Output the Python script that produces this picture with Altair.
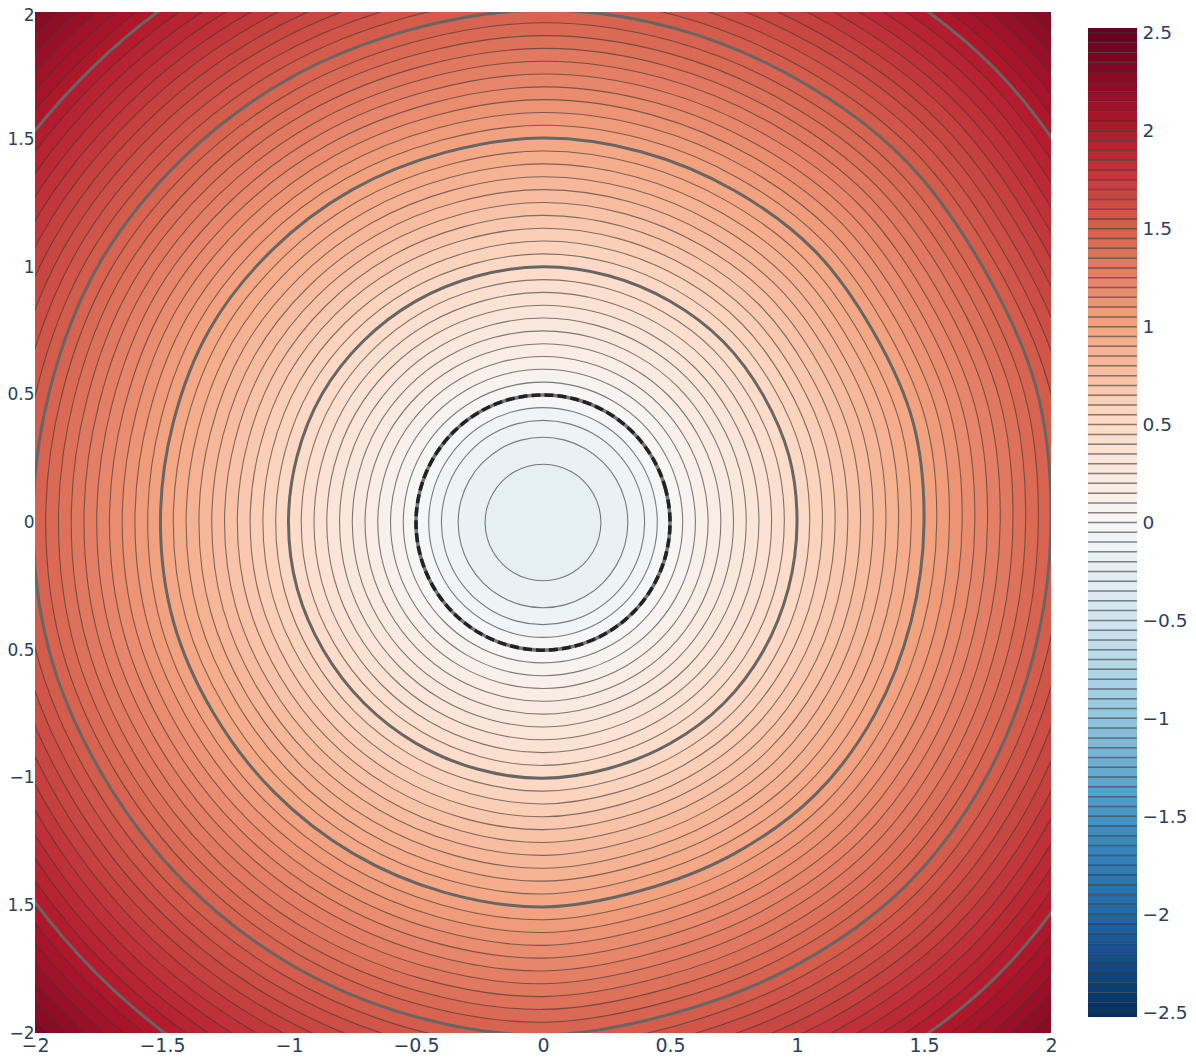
import math
import altair as alt
import pandas as pd

LEVELS = [-0.2, -0.15, -0.1, -0.05, 0.0, 0.05, 0.1, 0.15, 0.2, 0.25, 0.3, 0.35, 0.4, 0.45, 0.5, 0.55, 0.6, 0.65,
          0.7, 0.75, 0.8, 0.85, 0.9, 0.95, 1.0, 1.05, 1.1, 1.15, 1.2, 1.25, 1.3, 1.35, 1.4, 1.45, 1.5, 1.55,
          1.6, 1.65, 1.7, 1.75, 1.8, 1.85, 1.9, 1.95, 2.0, 2.05, 2.1, 2.15, 2.2, 2.25, 2.3, 2.35]
RADII = [0.228, 0.334, 0.4, 0.45, 0.5, 0.55, 0.6, 0.65, 0.7, 0.75, 0.8, 0.85, 0.9, 0.95, 1.0, 1.05, 1.1, 1.15,
         1.2, 1.25, 1.3, 1.35, 1.4, 1.45, 1.5, 1.55, 1.6, 1.65, 1.7, 1.75, 1.8, 1.85, 1.9, 1.95, 2.0, 2.05,
         2.1, 2.15, 2.2, 2.25, 2.3, 2.35, 2.4, 2.45, 2.5, 2.55, 2.6, 2.65, 2.7, 2.75, 2.8, 2.85]
# radial bulge of the contours, read every 15 degrees counter-clockwise from +x
BULGE = [1.0, 1.006, 1.0, 1.006, 1.002, 1.002, 1.004, 1.0, 1.003, 1.006, 1.01, 1.005,
         1.004, 1.004, 0.998, 0.997, 0.998, 1.0, 1.004, 0.995, 1.0, 1.008, 1.005, 1.0]
MAJOR_RADII = [1.0, 1.5, 2.0, 2.5]
X_TICKS = [-2, -1.5, -1, -0.5, 0, 0.5, 1, 1.5, 2]
Y_TICKS = [-2, -1.5, -1, -0.5, 0, 0.5, 1, 1.5, 2]
CBAR_TICKS = [-2.5, -2, -1.5, -1, -0.5, 0, 0.5, 1, 1.5, 2, 2.5]
CBAR_LEVELS = [k * 0.05 for k in range(-50, 51)]
COLOR_DOMAIN = [-2.5, -2, -1.5, -1, -0.5, 0, 0.5, 1, 1.5, 2, 2.5]
COLOR_RANGE = ["rgb(5,48,97)", "rgb(33,102,172)", "rgb(67,147,195)", "rgb(146,197,222)", "rgb(209,229,240)",
               "rgb(247,247,247)", "rgb(253,219,199)", "rgb(244,165,130)", "rgb(214,96,77)", "rgb(178,24,43)",
               "rgb(103,0,31)"]

FONT = "DejaVu Sans"
INK = "#2a3f5f"
MINUS_LABEL = "replace(toString(datum.value), '-', '\u2212')"


def ring(level, radius):
    rows = []
    for i, b in enumerate(BULGE):
        k = max(0.0, min(1.0, radius - 0.5))
        a = math.radians(i * 15)
        r = radius * (1 + (b - 1) * k)
        rows.append({"level": level, "radius": radius, "i": i, "band": level - 0.025,
                     "x": r * math.cos(a), "y": r * math.sin(a)})
    return rows


rows = []
for lv, rd in sorted(zip(LEVELS, RADII), reverse=True):
    rows += ring(lv, rd)
df = pd.DataFrame(rows)

xs = alt.Scale(domain=[-2, 2], nice=False, zero=False)
ys = alt.Scale(domain=[-2, 2], nice=False, zero=False)
color_scale = alt.Scale(domain=COLOR_DOMAIN, range=COLOR_RANGE, interpolate="rgb")

x_enc = alt.X("x:Q", scale=xs, title=None,
              axis=alt.Axis(values=X_TICKS, domain=False, ticks=False, grid=False, labelFont=FONT, labelFontSize=19,
                            labelColor=INK, labelPadding=3, labelOverlap=False, labelFlush=False,
                            labelExpr=MINUS_LABEL))
y_enc = alt.Y("y:Q", scale=ys, title=None,
              axis=alt.Axis(values=Y_TICKS, domain=False, ticks=False, grid=False, labelFont=FONT, labelFontSize=17,
                            labelColor=INK, labelPadding=1, labelOverlap=False, labelFlush=False,
                            minExtent=27, maxExtent=27,
                            labelOffset={"condition": {"test": "datum.value == 2", "value": 3}, "value": 0},
                            labelExpr="datum.value == -0.5 ? '0.5' : datum.value == -1.5 ? '1.5' : " + MINUS_LABEL))

canvas = alt.Chart(pd.DataFrame({"x": [-2], "x2": [2], "y": [-2], "y2": [2]})).mark_rect(
    color="rgb(103,0,31)").encode(x=x_enc, x2="x2:Q", y=y_enc, y2="y2:Q")

fills = alt.Chart(df).mark_line(filled=True, interpolate="cardinal-closed", clip=True, strokeWidth=0).encode(
    x=alt.X("x:Q", scale=xs), y=alt.Y("y:Q", scale=ys), order="i:Q",
    detail=alt.Detail("level:N"),
    fill=alt.Fill("band:Q", scale=color_scale, legend=None),
)
thin = alt.Chart(df).mark_line(interpolate="cardinal-closed", clip=True, strokeWidth=1.1, stroke="#3a3a3a",
                               strokeOpacity=0.65).encode(
    x=alt.X("x:Q", scale=xs), y=alt.Y("y:Q", scale=ys), order="i:Q", detail="level:N")
major_df = df[df["radius"].isin(MAJOR_RADII)]
major = alt.Chart(major_df).mark_line(interpolate="cardinal-closed", clip=True, strokeWidth=3, stroke="#666666").encode(
    x=alt.X("x:Q", scale=xs), y=alt.Y("y:Q", scale=ys), order="i:Q", detail="level:N")
zero_df = df[df["level"] == 0.0]
zero_a = alt.Chart(zero_df).mark_line(interpolate="cardinal-closed", clip=True, strokeWidth=3.5, stroke="#777777").encode(
    x=alt.X("x:Q", scale=xs), y=alt.Y("y:Q", scale=ys), order="i:Q", detail="level:N")
zero_b = alt.Chart(zero_df).mark_line(interpolate="cardinal-closed", clip=True, strokeWidth=3.5, stroke="#222222",
                                      strokeDash=[9, 4]).encode(
    x=alt.X("x:Q", scale=xs), y=alt.Y("y:Q", scale=ys), order="i:Q", detail="level:N")

main = alt.layer(canvas, fills, thin, major, zero_a, zero_b).properties(width=1016, height=1021)

cb_df = pd.DataFrame({"level": CBAR_LEVELS})
cb_df["lo"] = (cb_df["level"] - 0.05).clip(lower=-2.525)
cb_df["hi"] = cb_df["level"].clip(upper=2.5)
top = pd.DataFrame({"level": [2.55], "lo": [2.5], "hi": [2.525]})
cb_df = pd.concat([cb_df.iloc[1:], top], ignore_index=True)
cb_df["band"] = (cb_df["lo"] + cb_df["hi"]) / 2
cb_bottom = pd.DataFrame({"lo": [-2.525], "hi": [-2.5], "band": [-2.5125]})
cb_df = pd.concat([cb_bottom, cb_df], ignore_index=True)

cb_y = alt.Scale(domain=[-2.607, 2.607], nice=False, zero=False)
cb_axis = alt.Axis(orient="right", values=CBAR_TICKS, domain=False, ticks=False, grid=False, labelFont=FONT,
                   labelFontSize=18.5, labelColor=INK, labelPadding=5, labelOverlap=False, labelFlush=False,
                   labelExpr=MINUS_LABEL)
cbar_rect = alt.Chart(cb_df).mark_rect(strokeWidth=0).encode(
    x=alt.value(0), x2=alt.value(49),
    y=alt.Y("lo:Q", scale=cb_y, title=None, axis=cb_axis),
    y2="hi:Q",
    fill=alt.Fill("band:Q", scale=color_scale, legend=None),
)
cbar_lines = alt.Chart(pd.DataFrame({"level": CBAR_LEVELS})).mark_rule(stroke="#333333", strokeWidth=1.5, strokeOpacity=0.6).encode(
    x=alt.value(0), x2=alt.value(49), y=alt.Y("level:Q", scale=cb_y, title=None, axis=cb_axis))
cbar = alt.layer(cbar_rect, cbar_lines).properties(width=49, height=1021)

chart = alt.hconcat(main, cbar, spacing=29).resolve_scale(fill="independent", y="independent").properties(
    padding={"left": 27, "top": 4, "right": 1153, "bottom": 1042},
    autosize=alt.AutoSizeParams(type="none"),
).configure_view(stroke=None)
chart.save("out.html", embed_options={"renderer": "svg", "actions": False})
